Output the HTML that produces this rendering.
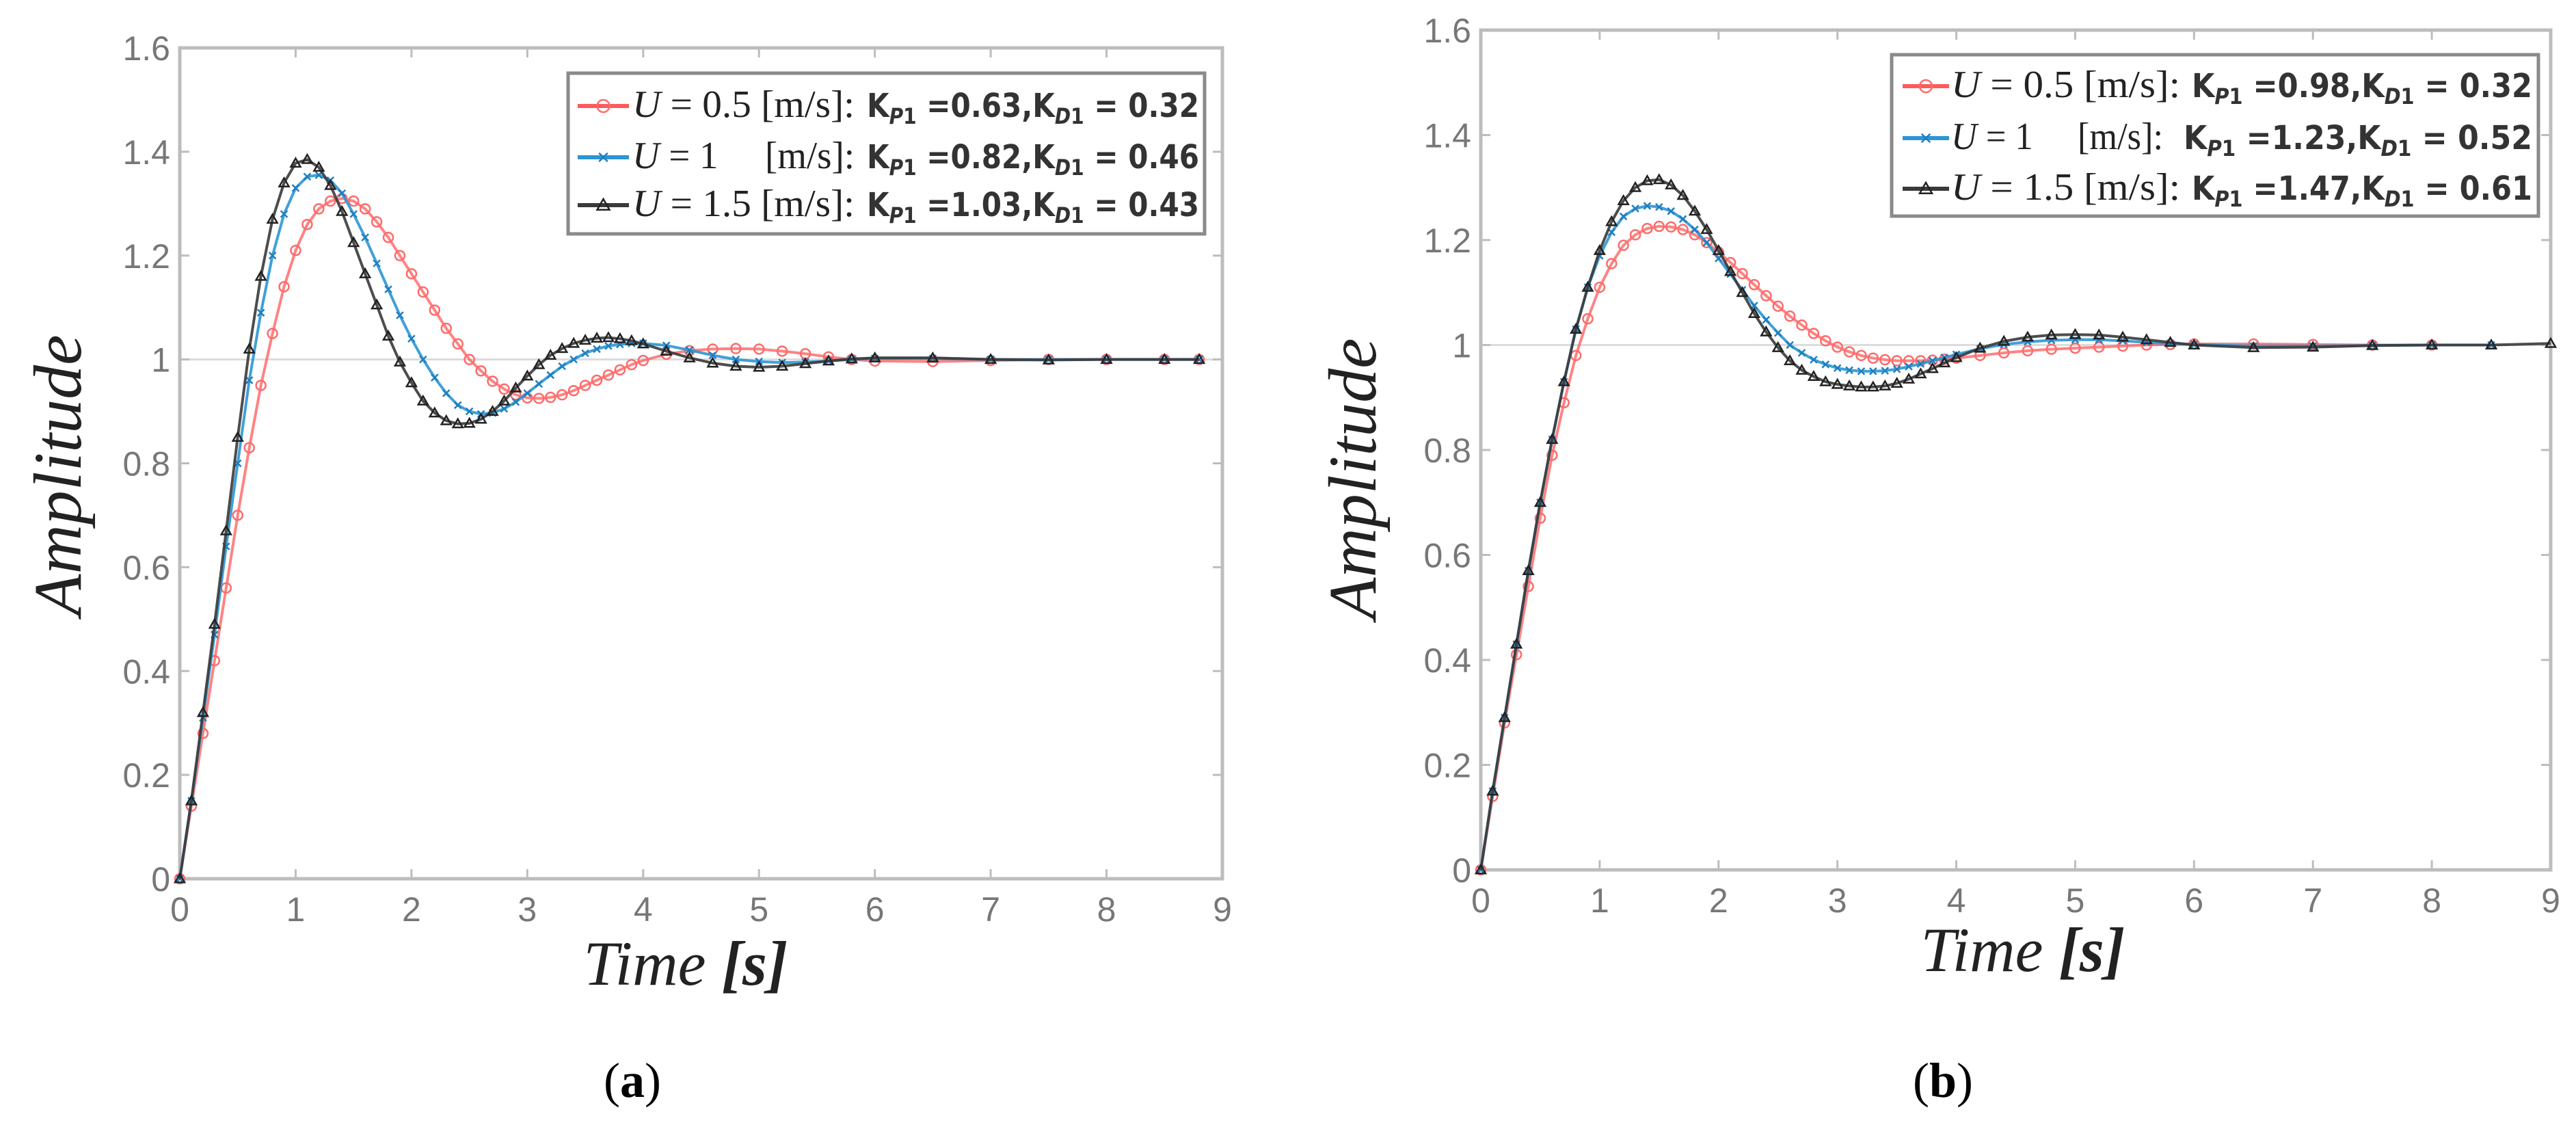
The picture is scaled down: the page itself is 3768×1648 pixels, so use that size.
<!DOCTYPE html>
<html><head><meta charset="utf-8"><title>Step responses</title>
<style>html,body{margin:0;padding:0;background:#fff;}svg{display:block;}</style></head>
<body>
<svg id="fig" width="3768" height="1648" viewBox="0 0 3768 1648" xmlns="http://www.w3.org/2000/svg"></svg>
<script>
// ---------- data chart (a) ----------
const tA = [0,0.1,0.2,0.3,0.4,0.5,0.6,0.7,0.8,0.9,1.0,1.1,1.2,1.3,1.4,1.5,1.6,1.7,1.8,1.9,2.0,2.1,2.2,2.3,2.4,2.5,2.6,2.7,2.8,2.9,3.0,3.1,3.2,3.3,3.4,3.5,3.6,3.7,3.8,3.9,4.0,4.2,4.4,4.6,4.8,5.0,5.2,5.4,5.6,5.8,6.0,6.5,7,7.5,8,8.5,8.8];
const redA = [0,.14,.28,.42,.56,.70,.83,.95,1.05,1.14,1.21,1.26,1.29,1.305,1.31,1.305,1.29,1.265,1.235,1.2,1.165,1.13,1.095,1.06,1.03,1.0,.978,.958,.943,.932,.926,.925,.927,.932,.94,.95,.96,.97,.98,.99,.998,1.01,1.017,1.02,1.021,1.02,1.016,1.011,1.005,1.0,.997,.996,.998,1.0,1.0,1.0,1.0];
const blueA = [0,.15,.31,.47,.64,.80,.96,1.09,1.20,1.28,1.33,1.352,1.355,1.345,1.32,1.28,1.235,1.185,1.135,1.085,1.04,1.0,.965,.935,.912,.9,.895,.897,.905,.918,.935,.953,.97,.987,1.0,1.012,1.02,1.026,1.029,1.031,1.031,1.027,1.018,1.008,1.0,.996,.994,.995,.997,1.0,1.002,1.002,1.0,1.0,1.0,1.0,1.0];
const blackA = [0,.15,.32,.49,.67,.85,1.02,1.16,1.27,1.34,1.378,1.385,1.37,1.335,1.285,1.225,1.165,1.105,1.045,.995,.955,.92,.897,.882,.876,.877,.885,.90,.92,.945,.968,.99,1.008,1.021,1.031,1.037,1.041,1.042,1.04,1.036,1.03,1.016,1.003,.993,.987,.985,.987,.992,.997,1.001,1.003,1.003,1.0,.999,1.0,1.0,1.0];
// ---------- data chart (b) ----------
const tB = [0,0.1,0.2,0.3,0.4,0.5,0.6,0.7,0.8,0.9,1.0,1.1,1.2,1.3,1.4,1.5,1.6,1.7,1.8,1.9,2.0,2.1,2.2,2.3,2.4,2.5,2.6,2.7,2.8,2.9,3.0,3.1,3.2,3.3,3.4,3.5,3.6,3.7,3.8,3.9,4.0,4.2,4.4,4.6,4.8,5.0,5.2,5.4,5.6,5.8,6.0,6.5,7,7.5,8,8.5,9];
const redB = [0,.14,.28,.41,.54,.67,.79,.89,.98,1.05,1.11,1.155,1.19,1.21,1.222,1.226,1.225,1.22,1.21,1.195,1.177,1.157,1.136,1.115,1.094,1.074,1.055,1.038,1.022,1.008,.996,.987,.98,.975,.972,.97,.97,.97,.971,.973,.975,.98,.985,.989,.992,.994,.996,.998,1.0,1.001,1.002,1.002,1.001,1.0,1.0,null,null];
const blueB = [0,.15,.29,.43,.57,.70,.82,.93,1.03,1.11,1.17,1.215,1.245,1.26,1.265,1.263,1.255,1.24,1.22,1.195,1.165,1.135,1.105,1.075,1.048,1.023,1.0,.985,.972,.963,.956,.952,.95,.95,.951,.954,.959,.964,.97,.976,.982,.993,1.001,1.006,1.009,1.01,1.01,1.008,1.005,1.003,1.001,.998,.998,.999,1.0,1.0,null];
const blackB = [0,.15,.29,.43,.57,.70,.82,.93,1.03,1.11,1.18,1.235,1.275,1.30,1.313,1.315,1.305,1.285,1.255,1.22,1.18,1.14,1.10,1.06,1.025,.995,.97,.952,.94,.93,.925,.922,.92,.92,.922,.927,.935,.945,.955,.966,.976,.994,1.007,1.015,1.019,1.02,1.019,1.015,1.01,1.005,1.0,.995,.996,.999,1.0,1.0,1.003];
const xTicks = [0,1,2,3,4,5,6,7,8,9];
const yTicks = [0,0.2,0.4,0.6,0.8,1,1.2,1.4,1.6];
const yTickLabels = ['0','0.2','0.4','0.6','0.8','1','1.2','1.4','1.6'];
const legendA = [['0.5','0.63','0.32'],['1','0.82','0.46'],['1.5','1.03','0.43']];
const legendB = [['0.5','0.98','0.32'],['1','1.23','0.52'],['1.5','1.47','0.61']];

const NS='http://www.w3.org/2000/svg';
const svg=document.getElementById('fig');
function mk(tag,attrs,parent){const e=document.createElementNS(NS,tag);for(const k in attrs)e.setAttribute(k,attrs[k]);(parent||svg).appendChild(e);return e;}
const COL={red:'#ff5a5a',blue:'#2b96d4',black:'#3a3a3a'};

function drawChart(cfg){
  const g=mk('g',{});
  
  
  const X=v=>cfg.L+(v-0)/9*(cfg.R-cfg.L);
  const Y=v=>cfg.B-(v/1.6)*(cfg.B-cfg.T);
  const gl=mk('line',{x1:cfg.L,x2:cfg.R,y1:Y(1),y2:Y(1),stroke:'#dcdcdc','stroke-width':3},g);
  
  
  const box=mk('rect',{x:cfg.L,y:cfg.T,width:cfg.R-cfg.L,height:cfg.B-cfg.T,fill:'none',stroke:'#bdbdbd','stroke-width':5},g);
  
  
  xTicks.forEach(v=>{
    mk('line',{x1:X(v),x2:X(v),y1:cfg.B,y2:cfg.B-14,stroke:'#bdbdbd','stroke-width':3},g);
    mk('line',{x1:X(v),x2:X(v),y1:cfg.T,y2:cfg.T+14,stroke:'#bdbdbd','stroke-width':3},g);
    const t=mk('text',{x:X(v),y:cfg.B+62,'text-anchor':'middle','font-family':'Liberation Sans, sans-serif','font-size':50,fill:'#777'},g);
    t.textContent=String(v);
    
    
  });
  yTicks.forEach((v,i)=>{
    mk('line',{x1:cfg.L,x2:cfg.L+14,y1:Y(v),y2:Y(v),stroke:'#bdbdbd','stroke-width':3},g);
    mk('line',{x1:cfg.R,x2:cfg.R-14,y1:Y(v),y2:Y(v),stroke:'#bdbdbd','stroke-width':3},g);
    const t=mk('text',{x:cfg.L-14,y:Y(v)+18,'text-anchor':'end','font-family':'Liberation Sans, sans-serif','font-size':50,fill:'#777'},g);
    t.textContent=yTickLabels[i];
    
    
  });
  cfg.series.forEach(s=>{
    const sg=mk('g',{},g);
    
    
    let d='';
    s.vals.forEach((v,i)=>{if(v===null)return;d+=(d?'L':'M')+X(cfg.t[i]).toFixed(1)+' '+Y(v).toFixed(1);});
    mk('path',{d:d,fill:'none',stroke:COL[s.key],'stroke-width':4,'stroke-opacity':s.key==='red'?0.75:0.9},sg);
    s.vals.forEach((v,i)=>{if(v===null)return;marker(sg,s.key,X(cfg.t[i]),Y(v),7);});
  });
  const yt=mk('text',{x:0,y:0,transform:`translate(${cfg.yLabX},${cfg.yLabY}) rotate(-90)`,'text-anchor':'middle','font-family':'Liberation Serif, serif','font-style':'italic','font-size':100,fill:'#222'},g);
  yt.textContent='Amplitude';
  
  
  const xt=mk('text',{x:cfg.xLabX,y:cfg.xLabY,'text-anchor':'middle','font-family':'Liberation Serif, serif','font-style':'italic','font-size':92,fill:'#222'},g);
  xt.innerHTML='Time <tspan font-weight="bold">[s]</tspan>';
  
  
  const cap=mk('text',{x:cfg.capX,y:1604,'text-anchor':'middle','font-family':'Liberation Serif, serif','font-size':72,fill:'#000'},g);
  cap.innerHTML='(<tspan font-weight="bold">'+cfg.cap+'</tspan>)';
  
  
  const lg=mk('g',{},g);
  
  
  const lb=cfg.leg;
  mk('rect',{x:lb.x,y:lb.y,width:lb.w,height:lb.h,fill:'#fff',stroke:'#8a8a8a','stroke-width':5},lg);
  const keys=['red','blue','black'];
  cfg.legTxt.forEach((row,i)=>{
    const cy=lb.rows[i];
    const eg=mk('g',{},lg);
    
    
    mk('line',{x1:lb.sx1,x2:lb.sx2,y1:cy,y2:cy,stroke:COL[keys[i]],'stroke-width':6},eg);
    marker(eg,keys[i],(lb.sx1+lb.sx2)/2,cy,9);
    const t1=mk('text',{x:lb.ux,y:cy+16,'font-family':'Liberation Serif, serif','font-size':56,fill:'#222',textLength:lb.uw[i],lengthAdjust:'spacingAndGlyphs'},eg);
    const pad=row[0]==='1'?'\u00a0\u00a0\u00a0\u00a0\u00a0':' ';
    t1.innerHTML='<tspan font-style="italic">U</tspan> = '+row[0]+pad+'[m/s]:';
    const t2=mk('text',{x:lb.kx[i],y:cy+16,'font-family':'DejaVu Sans, sans-serif','font-size':48,'font-weight':'bold',fill:'#333',textLength:lb.kr-lb.kx[i],lengthAdjust:'spacingAndGlyphs'},eg);
    t2.innerHTML='K<tspan font-style="italic" font-size="32" dy="10">P</tspan><tspan font-size="32">1</tspan><tspan dy="-10"> =</tspan>'+row[1]+',K<tspan font-style="italic" font-size="32" dy="10">D</tspan><tspan font-size="32">1</tspan><tspan dy="-10"> = </tspan>'+row[2];
  });
}
function marker(parent,key,x,y,r){
  let m;
  if(key==='red'){m=mk('circle',{cx:x,cy:y,r:r,fill:'none',stroke:'#ff6a6a','stroke-width':2.5},parent);}
  else if(key==='blue'){m=mk('path',{d:`M${x-r*0.7} ${y-r*0.7}L${x+r*0.7} ${y+r*0.7}M${x-r*0.7} ${y+r*0.7}L${x+r*0.7} ${y-r*0.7}`,stroke:'#1f7fc0','stroke-width':2.5,fill:'none'},parent);}
  else {m=mk('path',{d:`M${x} ${y-r}L${x+r} ${y+r*0.75}L${x-r} ${y+r*0.75}Z`,fill:'none',stroke:'#222','stroke-width':2.5},parent);}
  
  
}
drawChart({name:'chart-a',t:tA,L:263,R:1788,T:70,B:1285,
  series:[{key:'red',vals:redA},{key:'blue',vals:blueA},{key:'black',vals:blackA}],
  yLabX:118,yLabY:695,xLabX:1003,xLabY:1440,capX:925,cap:'a',
  leg:{x:831,y:107,w:931,h:235,rows:[155,230,300],sx1:845,sx2:920,ux:925,uw:[325,325,325],kx:[1268,1268,1268],kr:1754},
  legTxt:legendA});
drawChart({name:'chart-b',t:tB,L:2166,R:3731,T:44,B:1272,
  series:[{key:'red',vals:redB},{key:'blue',vals:blueB},{key:'black',vals:blackB}],
  yLabX:2012,yLabY:700,xLabX:2959,xLabY:1420,capX:2842,cap:'b',
  leg:{x:2767,y:80,w:946,h:236,rows:[126,202,276],sx1:2783,sx2:2851,ux:2854,uw:[335,310,335],kx:[3206,3194,3206],kr:3704},
  legTxt:legendB});
</script>
</body></html>
